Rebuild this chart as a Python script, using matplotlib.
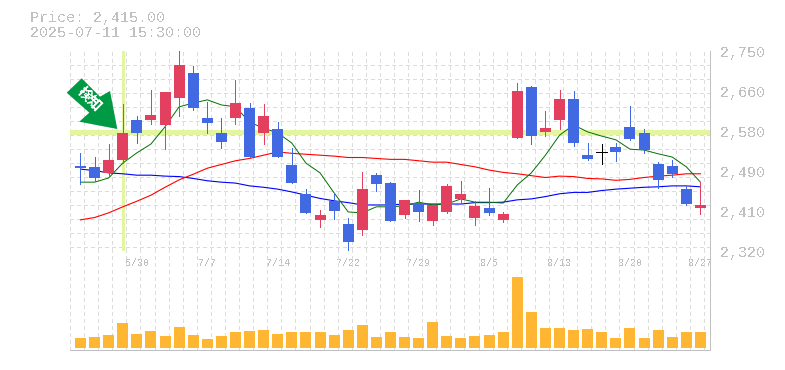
import numpy as np
import matplotlib
matplotlib.use('Agg')
import matplotlib.pyplot as plt
from matplotlib.patches import Polygon

plt.rcParams['text.antialiased'] = False

dates = ['6/30', '7/7', '7/14', '7/22', '7/29', '8/5', '8/13', '8/20', '8/27']
date_pos = [4, 9, 14, 19, 24, 29, 34, 39, 44]
price_ticks = [2750, 2664, 2578, 2492, 2406, 2320]
price_labels = ['2,750', '2,660', '2,580', '2,490', '2,410', '2,320']

opens = [2503, 2501, 2488, 2516, 2602, 2602, 2591, 2649, 2703, 2606, 2574, 2606, 2628, 2574, 2582,
         2505, 2442, 2387, 2428, 2378, 2365, 2483, 2466, 2397, 2423, 2385, 2404, 2432, 2391, 2412,
         2387, 2563, 2673, 2576, 2602, 2647, 2526, 2533, 2544, 2587, 2574, 2507, 2503, 2453, 2412]
highs = [2531, 2522, 2550, 2636, 2610, 2666, 2662, 2750, 2718, 2640, 2606, 2688, 2638, 2636, 2597,
         2541, 2453, 2408, 2445, 2391, 2490, 2488, 2468, 2430, 2451, 2419, 2464, 2470, 2428, 2456,
         2404, 2681, 2675, 2621, 2666, 2664, 2552, 2550, 2552, 2632, 2582, 2511, 2516, 2460, 2468]
lows = [2464, 2470, 2480, 2509, 2552, 2593, 2539, 2610, 2623, 2574, 2541, 2593, 2522, 2550, 2522,
        2466, 2402, 2372, 2389, 2320, 2354, 2449, 2384, 2391, 2385, 2376, 2402, 2423, 2376, 2397,
        2382, 2563, 2550, 2567, 2582, 2546, 2516, 2507, 2513, 2559, 2531, 2455, 2479, 2419, 2400]
closes = [2499, 2478, 2516, 2574, 2574, 2612, 2662, 2720, 2628, 2595, 2554, 2638, 2522, 2610, 2522,
          2467, 2402, 2397, 2406, 2339, 2453, 2464, 2385, 2430, 2404, 2419, 2460, 2442, 2417, 2402,
          2400, 2664, 2567, 2584, 2647, 2552, 2518, 2533, 2533, 2561, 2537, 2473, 2486, 2421, 2419]

ma_short = [2468, 2468, 2477, 2509, 2531, 2550, 2587, 2630, 2638, 2645, 2634, 2630, 2597, 2584, 2574,
            2552, 2509, 2488, 2445, 2404, 2402, 2415, 2415, 2417, 2425, 2419, 2421, 2432, 2425, 2425,
            2423, 2462, 2488, 2526, 2569, 2591, 2576, 2567, 2559, 2539, 2537, 2529, 2522, 2501, 2468]
ma_mid = [2387, 2392, 2402, 2415, 2427, 2440, 2457, 2473, 2485, 2498, 2506, 2514, 2519, 2526, 2533,
          2530, 2528, 2526, 2524, 2521, 2521, 2519, 2517, 2517, 2514, 2511, 2511, 2506, 2501, 2494,
          2489, 2486, 2482, 2478, 2481, 2480, 2476, 2475, 2472, 2474, 2478, 2481, 2483, 2486, 2486]
ma_long = [2496, 2493, 2488, 2486, 2483, 2483, 2481, 2480, 2476, 2471, 2468, 2466, 2460, 2457, 2453,
           2447, 2440, 2433, 2428, 2424, 2419, 2419, 2419, 2421, 2421, 2421, 2421, 2421, 2424, 2424,
           2425, 2430, 2432, 2437, 2443, 2446, 2446, 2450, 2453, 2455, 2457, 2458, 2460, 2460, 2458]

volume = [1000, 1100, 1300, 2500, 1400, 1700, 1200, 2100, 1300, 900, 1200, 1600, 1700, 1800, 1400,
          1600, 1600, 1600, 1300, 1800, 2300, 1100, 1600, 1100, 1000, 2600, 1200, 1000, 1200, 1300,
          1600, 7100, 3600, 2000, 2000, 1800, 1900, 1600, 1000, 2000, 1000, 1800, 1100, 1600, 1600]

signal_price = 2575
signal_index = 3

RED = '#e34060'
BLUE = '#4169e1'
GREY = '#c0c0c0'
GRID = '#dcdcdc'
HILITE = '#e4f5a0'

W, H = 785, 370
fig = plt.figure(figsize=(W / 100, H / 100), dpi=100)
ax = fig.add_axes([70 / W, (H - 251) / H, 640 / W, 200 / H])
vol = fig.add_axes([70 / W, (H - 350) / H, 640 / W, 99 / H])

x = np.arange(len(closes))
xlim = (-0.745, 44.68)
grid_x = np.arange(xlim[0], xlim[1], 1)

for a in (ax, vol):
    a.set_xlim(xlim)
    for s in ['top', 'left']:
        a.spines[s].set_visible(False)
    for s in ['right', 'bottom']:
        a.spines[s].set_color(GREY)
        a.spines[s].set_linewidth(0.72)
        a.spines[s].set_antialiased(False)
    a.set_xticks(grid_x, minor=True)
    a.grid(True, which='minor', axis='x', color=GRID, lw=0.72, ls=(0, (3, 3)), antialiased=False)
    a.tick_params(which='minor', length=0)
    a.set_axisbelow(True)

ax.set_ylim(2320, 2750)
ax.set_yticks(price_ticks, price_labels, family='Liberation Mono', fontsize=10.8, color=GREY)
ax.set_yticks(np.arange(2750, 2325, -30.1), minor=True)
ax.grid(True, which='minor', axis='y', color=GRID, lw=0.72, ls=(0, (3, 3)), antialiased=False)
ax.yaxis.tick_right()
ax.tick_params(axis='y', which='major', length=0, pad=7)
ax.tick_params(axis='x', which='major', length=0, labelbottom=False)
ax.set_xticks([])

ax.axhline(signal_price, color=HILITE, lw=2.4, zorder=1, antialiased=False)
ax.axvline(signal_index, color=HILITE, lw=2.0, zorder=1, antialiased=False)

ax.plot(x, ma_long, color='#0000ff', lw=0.8, zorder=2)
ax.plot(x, ma_mid, color='#ff0000', lw=0.8, zorder=2)
ax.plot(x, ma_short, color='#007000', lw=0.7, zorder=2)

colors = []
for o, c in zip(opens, closes):
    if c > o:
        colors.append(RED)
    elif c < o:
        colors.append(BLUE)
    else:
        colors.append('black')
bottoms = np.minimum(opens, closes)
heights = np.abs(np.array(closes) - np.array(opens))
ax.vlines(x, lows, highs, colors=colors, lw=0.72, zorder=3, antialiased=False)
ax.bar(x, heights, 0.78, bottom=bottoms, color=colors, lw=0, zorder=4, antialiased=False)
# the one doji has no body, just a flat line
for i in range(len(x)):
    if heights[i] == 0:
        ax.hlines(opens[i], i - 0.39, i + 0.39, color='black', lw=0.72, zorder=4, antialiased=False)

vol.bar(x, volume, 0.78, color='#ffb733', lw=0, zorder=3, antialiased=False)
vol.set_ylim(-200, 9700)
vol.set_yticks([])
vol.set_xticks(date_pos, dates, family='Liberation Mono', fontsize=7.2, color=GREY)
vol.xaxis.tick_top()
vol.tick_params(axis='x', which='major', length=0, pad=-12)
vol.tick_params(axis='x', which='minor', length=0)

# signal arrow, placed in pixels
arrow_px = [(81.7, 78.3), (100, 96.7), (110, 91), (117.3, 129), (79.3, 121.7), (89.3, 112.7), (66.7, 92.7)]
arrow = Polygon([(px / W, 1 - py / H) for px, py in arrow_px], closed=True, color='#009944',
                lw=0, transform=fig.transFigure, zorder=10)
fig.add_artist(arrow)
fig.text(89 / W, 1 - 99 / H, '検知', color='white', fontsize=10, fontweight='bold', rotation=-45,
         family=['Noto Sans CJK JP', 'DejaVu Sans'], ha='center', va='center', rotation_mode='anchor', zorder=11)

fig.text(30 / W, 1 - 18 / H, 'Price: 2,415.00', family='Liberation Mono', fontsize=10.8, color=GREY, va='center')
fig.text(30 / W, 1 - 33 / H, '2025-07-11 15:30:00', family='Liberation Mono', fontsize=10.8, color=GREY, va='center')

fig.savefig('out.png', dpi=100)
